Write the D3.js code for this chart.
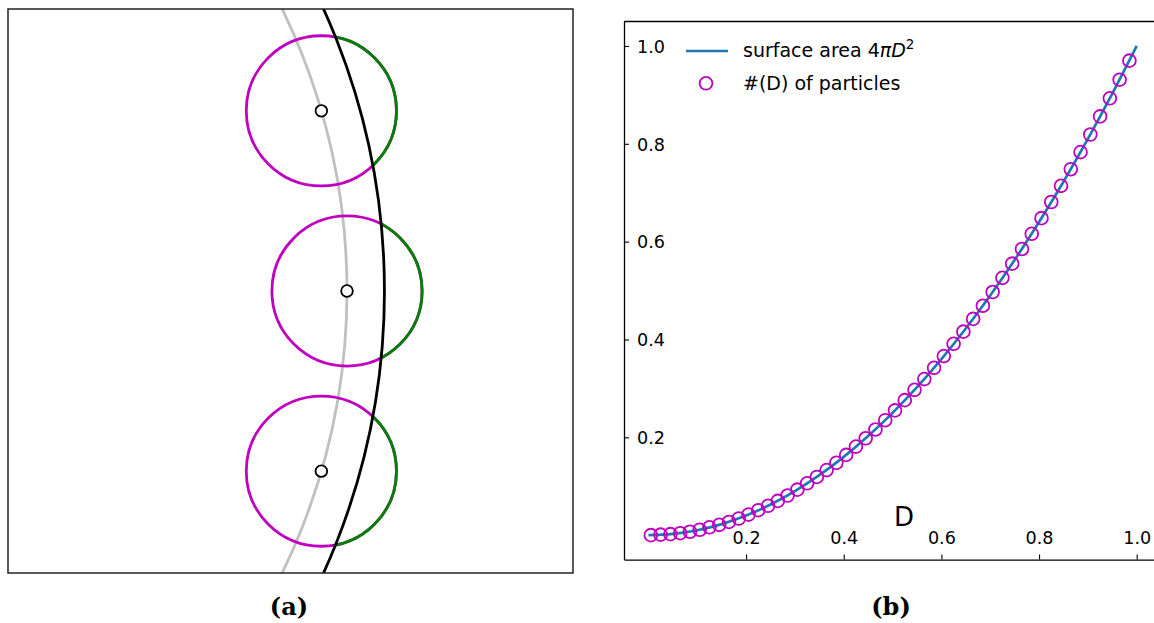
<!DOCTYPE html>
<html>
<head>
<meta charset="utf-8">
<script src="https://cdn.jsdelivr.net/npm/d3@7"></script>
<style>
  html, body { margin: 0; padding: 0; background: #fff; }
  svg { display: block; }
  text { font-family: "DejaVu Sans", sans-serif; fill: #000; }
</style>
</head>
<body>
<svg id="fig" width="1154" height="623"></svg>
<script>
// ---- panel (a): particles straddling a spherical shell ----
const shellRadius = 1.0;          // grey circle through particle centres
const outerRadius = 1.058;        // black boundary circle
const particleRadius = 0.1163;    // radius of each particle
const particleAngles = [16.2, 0, -16.2];   // degrees, position on the shell

// ---- panel (b): particle count vs. surface area ----
const curveD    = [0, 0.05, 0.1, 0.15, 0.2, 0.25, 0.3, 0.35, 0.4, 0.45, 0.5,
                   0.55, 0.6, 0.65, 0.7, 0.75, 0.8, 0.85, 0.9, 0.95, 1.0];
const curveArea = [0, 0.0025, 0.01, 0.0225, 0.04, 0.0625, 0.09, 0.1225, 0.16, 0.2025, 0.25,
                   0.3025, 0.36, 0.4225, 0.49, 0.5625, 0.64, 0.7225, 0.81, 0.9025, 1.0];

const countD = [0.005, 0.025, 0.045, 0.065, 0.085, 0.105, 0.125, 0.145, 0.165, 0.185,
                0.205, 0.225, 0.245, 0.265, 0.285, 0.305, 0.325, 0.345, 0.365, 0.385,
                0.405, 0.425, 0.445, 0.465, 0.485, 0.505, 0.525, 0.545, 0.565, 0.585,
                0.605, 0.625, 0.645, 0.665, 0.685, 0.705, 0.725, 0.745, 0.765, 0.785,
                0.805, 0.825, 0.845, 0.865, 0.885, 0.905, 0.925, 0.945, 0.965, 0.985];
const countN = [0.000, 0.001, 0.002, 0.004, 0.007, 0.011, 0.016, 0.021, 0.027, 0.034,
                0.042, 0.051, 0.060, 0.070, 0.081, 0.093, 0.106, 0.119, 0.133, 0.148,
                0.164, 0.181, 0.198, 0.216, 0.235, 0.255, 0.276, 0.297, 0.319, 0.342,
                0.366, 0.391, 0.416, 0.442, 0.469, 0.497, 0.526, 0.555, 0.585, 0.616,
                0.648, 0.681, 0.714, 0.748, 0.783, 0.819, 0.856, 0.893, 0.931, 0.970];

const xTicks = [0.2, 0.4, 0.6, 0.8, 1.0];
const yTicks = [0.2, 0.4, 0.6, 0.8, 1.0];
const xTickLabels = ["0.2", "0.4", "0.6", "0.8", "1.0"];
const yTickLabels = ["0.2", "0.4", "0.6", "0.8", "1.0"];

const svg = d3.select("#fig");
const defs = svg.append("defs");

// =========================== panel (a) ===========================
const A = { left: 8, right: 573, top: 9, bottom: 573 };
const xDomA = [0.475, 1.35];
const unitA = (A.right - A.left) / (xDomA[1] - xDomA[0]);
const halfY = (A.bottom - A.top) / 2 / unitA;
const xA = d3.scaleLinear().domain(xDomA).range([A.left, A.right]);
const yA = d3.scaleLinear().domain([-halfY, halfY]).range([A.bottom, A.top]);
const rA = r => xA(r) - xA(0);

defs.append("clipPath").attr("id", "clipA")
  .append("rect")
  .attr("x", A.left).attr("y", A.top)
  .attr("width", A.right - A.left).attr("height", A.bottom - A.top);

// region outside the boundary circle (where particles poke through)
const mask = defs.append("mask").attr("id", "outside")
  .attr("maskUnits", "userSpaceOnUse")
  .attr("x", 0).attr("y", 0).attr("width", 1154).attr("height", 623);
mask.append("rect").attr("x", 0).attr("y", 0).attr("width", 1154).attr("height", 623).attr("fill", "#fff");
mask.append("circle").attr("cx", xA(0)).attr("cy", yA(0)).attr("r", rA(outerRadius)).attr("fill", "#000");

const gA = svg.append("g").attr("clip-path", "url(#clipA)");

gA.append("circle")
  .attr("cx", xA(0)).attr("cy", yA(0)).attr("r", rA(shellRadius))
  .attr("fill", "none").attr("stroke", "#c0c0c0").attr("stroke-width", 2.8);

const particles = particleAngles.map(a => {
  const t = a * Math.PI / 180;
  return { x: shellRadius * Math.cos(t), y: shellRadius * Math.sin(t) };
});

gA.selectAll("circle.particle").data(particles).join("circle")
  .attr("class", "particle")
  .attr("cx", d => xA(d.x)).attr("cy", d => yA(d.y)).attr("r", rA(particleRadius))
  .attr("fill", "none").attr("stroke", "#bf00bf").attr("stroke-width", 2.8);

gA.append("g").attr("mask", "url(#outside)")
  .selectAll("circle").data(particles).join("circle")
  .attr("cx", d => xA(d.x)).attr("cy", d => yA(d.y)).attr("r", rA(particleRadius))
  .attr("fill", "none").attr("stroke", "#008000").attr("stroke-width", 2.8);

gA.append("circle")
  .attr("cx", xA(0)).attr("cy", yA(0)).attr("r", rA(outerRadius))
  .attr("fill", "none").attr("stroke", "#000").attr("stroke-width", 2.8);

gA.selectAll("circle.centre").data(particles).join("circle")
  .attr("class", "centre")
  .attr("cx", d => xA(d.x)).attr("cy", d => yA(d.y)).attr("r", 5.8)
  .attr("fill", "#fff").attr("stroke", "#000").attr("stroke-width", 1.8);

svg.append("rect")
  .attr("x", A.left).attr("y", A.top)
  .attr("width", A.right - A.left).attr("height", A.bottom - A.top)
  .attr("fill", "none").attr("stroke", "#222").attr("stroke-width", 1.5);

// =========================== panel (b) ===========================
const B = { left: 624, top: 21.5, bottom: 559.6 };
const pxPerUnitX = 488.3;
const xB = d3.scaleLinear().domain([-0.05, 1.05]).range([B.left, B.left + 1.1 * pxPerUnitX]);
const yB = d3.scaleLinear().domain([-0.05, 1.05]).range([B.bottom, B.top]);

const gB = svg.append("g");

// spines
gB.append("line").attr("x1", xB(-0.05)).attr("x2", xB(1.05)).attr("y1", B.top).attr("y2", B.top)
  .attr("stroke", "#000").attr("stroke-width", 1.3);
gB.append("line").attr("x1", xB(1.05)).attr("x2", xB(1.05)).attr("y1", B.top).attr("y2", B.bottom)
  .attr("stroke", "#000").attr("stroke-width", 1.3);

// x axis, ticks pointing into the plot, labels inside
const xAxis = d3.axisBottom(xB).tickValues(xTicks)
  .tickFormat((d, i) => xTickLabels[i]).tickSizeInner(-5).tickSizeOuter(0);
const gx = gB.append("g").attr("transform", `translate(0,${B.bottom})`).call(xAxis);
gx.select(".domain").attr("stroke", "#000").attr("stroke-width", 1.3);
gx.selectAll(".tick line").attr("stroke", "#000").attr("stroke-width", 1.1);
gx.selectAll(".tick text")
  .attr("y", -16).attr("dy", 0)
  .style("font-family", "DejaVu Sans").style("font-size", "17.6px").attr("fill", "#000");

// y axis
const yAxis = d3.axisLeft(yB).tickValues(yTicks)
  .tickFormat((d, i) => yTickLabels[i]).tickSizeInner(-5).tickSizeOuter(0);
const gy = gB.append("g").attr("transform", `translate(${B.left},0)`).call(yAxis);
gy.select(".domain").attr("stroke", "#000").attr("stroke-width", 1.3);
gy.selectAll(".tick line").attr("stroke", "#000").attr("stroke-width", 1.1);
gy.selectAll(".tick text")
  .attr("x", 13).attr("dy", "0.36em").attr("text-anchor", "start")
  .style("font-family", "DejaVu Sans").style("font-size", "17.6px").attr("fill", "#000");

// surface-area curve
const line = d3.line()
  .x((d, i) => xB(curveD[i]))
  .y((d, i) => yB(curveArea[i]))
  .curve(d3.curveCatmullRom);
gB.append("path").datum(curveD)
  .attr("d", line)
  .attr("fill", "none").attr("stroke", "#1f77b4").attr("stroke-width", 2.7);

// particle counts
gB.selectAll("circle.count").data(countD).join("circle")
  .attr("class", "count")
  .attr("cx", (d, i) => xB(countD[i])).attr("cy", (d, i) => yB(countN[i]))
  .attr("r", 6.4)
  .attr("fill", "none").attr("stroke", "#bf00bf").attr("stroke-width", 1.8);

// axis label
gB.append("text").attr("x", 904).attr("y", 526)
  .attr("text-anchor", "middle").style("font-size", "26px").text("D");

// legend
const lg = gB.append("g");
lg.append("line").attr("x1", 686).attr("x2", 728).attr("y1", 51).attr("y2", 51)
  .attr("stroke", "#1f77b4").attr("stroke-width", 2.7);
const t1 = lg.append("text").attr("x", 743).attr("y", 57).style("font-size", "19px");
t1.append("tspan").text("surface area 4");
t1.append("tspan").style("font-style", "italic").text("π");
t1.append("tspan").style("font-style", "italic").text("D");
t1.append("tspan").attr("dy", -8).style("font-size", "13.5px").text("2");
lg.append("circle").attr("cx", 706).attr("cy", 83.3).attr("r", 6.4)
  .attr("fill", "none").attr("stroke", "#bf00bf").attr("stroke-width", 1.8);
lg.append("text").attr("x", 743).attr("y", 89.5).style("font-size", "19px").text("#(D) of particles");

// panel captions
svg.append("text").attr("x", 289).attr("y", 615).attr("text-anchor", "middle")
  .style("font-family", "'DejaVu Serif', serif").style("font-weight", "bold").style("font-size", "24px")
  .text("(a)");
svg.append("text").attr("x", 891).attr("y", 615).attr("text-anchor", "middle")
  .style("font-family", "'DejaVu Serif', serif").style("font-weight", "bold").style("font-size", "24px")
  .text("(b)");
</script>
</body>
</html>
